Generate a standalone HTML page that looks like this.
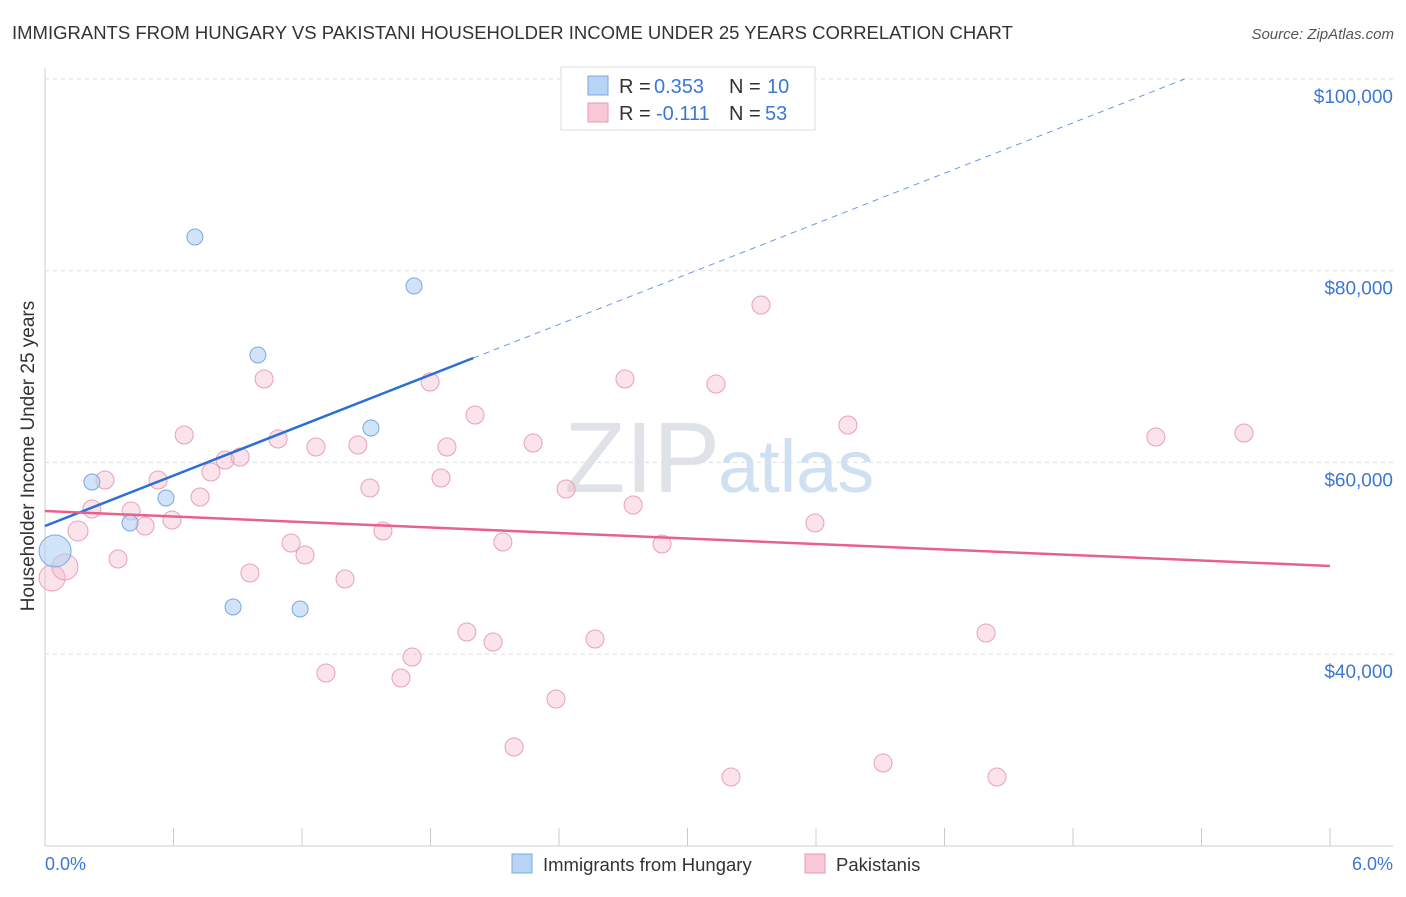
<!DOCTYPE html>
<html><head><meta charset="utf-8"><style>
body{margin:0;background:#fff;font-family:"Liberation Sans",sans-serif;}
svg text{font-family:"Liberation Sans",sans-serif;}
</style></head><body>
<svg id="chart" width="1406" height="892">
<text x="12" y="39" font-size="18.5" fill="#333">IMMIGRANTS FROM HUNGARY VS PAKISTANI HOUSEHOLDER INCOME UNDER 25 YEARS CORRELATION CHART</text>
<text x="1394" y="39" font-size="15" fill="#555" font-style="italic" text-anchor="end">Source: ZipAtlas.com</text>
<text x="720" y="492" font-size="100" fill="#dfe3e8" text-anchor="end" font-family="Liberation Serif">ZIP</text>
<text x="718" y="492" font-size="74" fill="#cfe0f3">atlas</text>
<g id="grid"></g><g id="marks"></g>
<text transform="translate(34,456) rotate(-90)" font-size="19" fill="#333" text-anchor="middle">Householder Income Under 25 years</text>
<text x="45" y="870" font-size="18" fill="#3a78d4">0.0%</text>
<text x="1393" y="870" font-size="18" fill="#3a78d4" text-anchor="end">6.0%</text>
<g>
<rect x="561" y="67" width="254" height="63" fill="#fff" stroke="#ddd"/>
<rect x="588" y="76" width="20" height="19" fill="#b8d4f5" stroke="#7aa8e0"/>
<rect x="588" y="103" width="20" height="19" fill="#f8c8d6" stroke="#e79ab2"/>
<text x="619" y="93" font-size="20" fill="#333">R = </text>
<text x="654" y="93" font-size="20" fill="#3a78d4">0.353</text>
<text x="729" y="93" font-size="20" fill="#333">N = </text>
<text x="767" y="93" font-size="20" fill="#3a78d4">10</text>
<text x="619" y="120" font-size="20" fill="#333">R = </text>
<text x="656" y="120" font-size="20" fill="#3a78d4">-0.111</text>
<text x="729" y="120" font-size="20" fill="#333">N = </text>
<text x="765" y="120" font-size="20" fill="#3a78d4">53</text>
</g>
<g>
<rect x="512" y="854" width="20" height="19" fill="#b8d4f5" stroke="#7aa8e0"/>
<text x="543" y="871" font-size="18.5" fill="#333">Immigrants from Hungary</text>
<rect x="805" y="854" width="20" height="19" fill="#f8c8d6" stroke="#e79ab2"/>
<text x="836" y="871" font-size="18.5" fill="#333">Pakistanis</text>
</g>
</svg>
<script>
const yTicks=[40000,60000,80000,100000];
const yTickLabels=["$40,000","$60,000","$80,000","$100,000"];
const xTicks=[0,0.6,1.2,1.8,2.4,3.0,3.6,4.2,4.8,5.4,6.0];
const blueX=[0.047,0.219,0.397,0.565,0.700,0.878,0.994,1.191,1.522,1.723];
const blueY=[50756,57955,53678,56285,83516,44914,71205,44705,63589,78404];
const blueR=[16,8,8,8,8,8,8,8,8,8];
const pinkX=[0.033,0.093,0.154,0.219,0.280,0.341,0.402,0.467,0.528,0.593,0.650,0.724,0.775,0.841,0.911,0.957,1.023,1.088,1.149,1.214,1.265,1.401,1.461,1.517,1.578,1.662,1.714,1.798,1.849,1.877,1.970,2.008,2.092,2.138,2.190,2.279,2.386,2.433,2.568,2.708,2.746,2.881,3.133,3.203,3.343,3.595,3.749,3.913,4.394,4.445,5.187,5.598,1.312];
const pinkY=[47939,49087,52843,55138,58163,49922,54929,53364,58163,53990,62859,56390,58998,60250,60563,48461,68701,62441,51591,50339,61607,47835,61815,57329,52843,37506,39697,68388,58372,61607,42306,64945,41262,51695,30308,62024,35315,57224,41575,68701,55555,51487,68179,27177,76421,53677,63901,28638,42202,27177,62650,63067,38028];
const pinkR=[13,13,10,9,9,9,9,9,9,9,9,9,9,9,9,9,9,9,9,9,9,9,9,9,9,9,9,9,9,9,9,9,9,9,9,9,9,9,9,9,9,9,9,9,9,9,9,9,9,9,9,9,9];
const blueTrend=[53364,70892];
const blueSolidEnd=2.0;
const pinkTrend=[54927,49191];
const NS="http://www.w3.org/2000/svg";
const X=v=>45+v*214.17;
const Y=v=>79+(100000-v)/104.33;
function mk(tag,at,parent){const e=document.createElementNS(NS,tag);for(const k in at)e.setAttribute(k,at[k]);parent.appendChild(e);return e;}
const grid=document.getElementById('grid'),marks=document.getElementById('marks');
yTicks.forEach((t,i)=>{
 const l=mk('line',{x1:45,x2:1393,y1:Y(t),y2:Y(t),stroke:'#ddd','stroke-dasharray':'4,4'},grid);
 
 
 const tx=mk('text',{x:1393,y:Y(t)+24,'font-size':19,fill:'#3a78d4','text-anchor':'end'},grid);
 tx.textContent=yTickLabels[i];
 
 
});
const ax=mk('line',{x1:45,x2:1393,y1:846,y2:846,stroke:'#ccc'},grid);


const ay=mk('line',{x1:45,x2:45,y1:68,y2:846,stroke:'#ccc'},grid);


xTicks.forEach(t=>{
 const l=mk('line',{x1:X(t),x2:X(t),y1:828,y2:846,stroke:'#ccc'},grid);
 
 
});
pinkX.forEach((x,i)=>{
 const c=mk('circle',{cx:X(x),cy:Y(pinkY[i]),r:pinkR[i],fill:'rgba(246,184,204,0.4)',stroke:'#e9a0b8','stroke-width':1},marks);
 
 
});
blueX.forEach((x,i)=>{
 const c=mk('circle',{cx:X(x),cy:Y(blueY[i]),r:blueR[i],fill:'rgba(178,208,244,0.6)',stroke:'#7aa8e0','stroke-width':1},marks);
 
 
});
const bSlope=(blueTrend[1]-blueTrend[0])/2.0;
const bY=x=>blueTrend[0]+bSlope*x;
const xEnd=(100000-blueTrend[0])/bSlope;
const bl=mk('line',{x1:X(0),y1:Y(bY(0)),x2:X(blueSolidEnd),y2:Y(bY(blueSolidEnd)),stroke:'#2a6fd6','stroke-width':2.5},marks);


const bd=mk('line',{x1:X(blueSolidEnd),y1:Y(bY(blueSolidEnd)),x2:X(xEnd),y2:Y(bY(xEnd)),stroke:'#6a9be0','stroke-width':1,'stroke-dasharray':'6,5'},marks);


const pl=mk('line',{x1:X(0),y1:Y(pinkTrend[0]),x2:X(6),y2:Y(pinkTrend[1]),stroke:'#e8608e','stroke-width':2.5},marks);


</script>
</body></html>
